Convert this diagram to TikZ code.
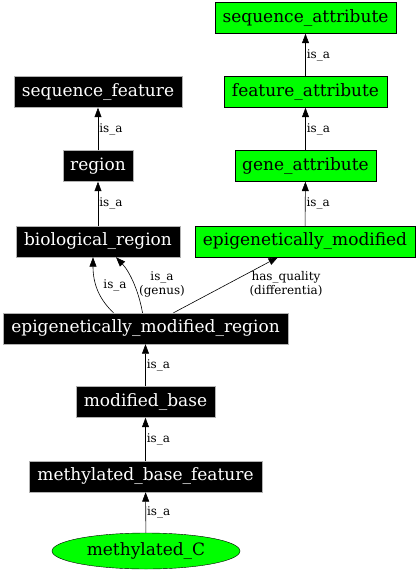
\documentclass[tikz,border=0pt]{standalone}
\usepackage{fontspec}
\setmainfont{DejaVu Serif}
\usetikzlibrary{arrows.meta,shapes.geometric}
\begin{document}
\begin{tikzpicture}[x=1pt,y=-1pt,
  base/.style={draw,font=\fontsize{17}{19}\selectfont,minimum height=31pt,inner sep=0pt},
  blk/.style={base,fill=black,text=white,draw=gray!60},
  grn/.style={base,fill=green,draw=black},
  edge/.style={draw=black,line width=0.6pt,-{Triangle[length=9.5pt,width=7pt]}},
  lab/.style={font=\fontsize{12}{14}\selectfont,align=center,inner sep=1pt}]
\useasboundingbox (0,0) rectangle (419,576);
\node[grn,minimum width=181pt] (sa) at (305.5,18) {sequence\_attribute};
\node[grn,minimum width=163pt] (fa) at (305.5,92) {feature\_attribute};
\node[grn,minimum width=141pt] (ga) at (305.5,166) {gene\_attribute};
\node[grn,minimum width=220pt] (em) at (305,241.5) {epigenetically\_modified};
\node[blk,minimum width=168pt] (sf) at (98,92) {sequence\_feature};
\node[blk,minimum width=70pt] (rg) at (98,166) {region};
\node[blk,minimum width=164pt] (br) at (98,241.5) {biological\_region};
\node[blk,minimum width=285pt] (emr) at (145.5,328.5) {epigenetically\_modified\_region};
\node[blk,minimum width=139pt] (mb) at (145.5,402) {modified\_base};
\node[blk,minimum width=233pt] (mbf) at (145.5,476.5) {methylated\_base\_feature};
\node[ellipse,draw=black,fill=green,font=\fontsize{17}{19}\selectfont,minimum width=188pt,minimum height=36pt,inner sep=0pt] (mc) at (146,551) {methylated\_C};
\draw[edge] (fa) -- node[lab,right,pos=0.5]{is\_a} (sa);
\draw[edge] (ga) -- node[lab,right,pos=0.5]{is\_a} (fa);
\draw[edge] (em) -- node[lab,right,pos=0.5]{is\_a} (ga);
\draw[edge] (rg) -- node[lab,right,pos=0.5]{is\_a} (sf);
\draw[edge] (br) -- node[lab,right,pos=0.5]{is\_a} (rg);
\draw[edge] (mb) -- node[lab,right,pos=0.5]{is\_a} (emr);
\draw[edge] (mbf) -- node[lab,right,pos=0.5]{is\_a} (mb);
\draw[edge] (mc) -- node[lab,right,pos=0.5]{is\_a} (mbf);
\draw[edge] ([xshift=-32pt]emr.north) .. controls (100,300) and (93,285) .. ([xshift=-5pt]br.south);
\node[lab] (l1) at (115,285) {is\_a};
\draw[edge] ([xshift=-3pt]emr.north) .. controls (139,292) and (130,272) .. ([xshift=18pt]br.south);
\node[lab] (l2) at (162,284) {is\_a\\(genus)};
\draw[edge] ([xshift=28pt]emr.north) -- ([xshift=-27pt]em.south);
\node[lab] (l3) at (286,284) {has\_quality\\(differentia)};
\end{tikzpicture}
\end{document}
